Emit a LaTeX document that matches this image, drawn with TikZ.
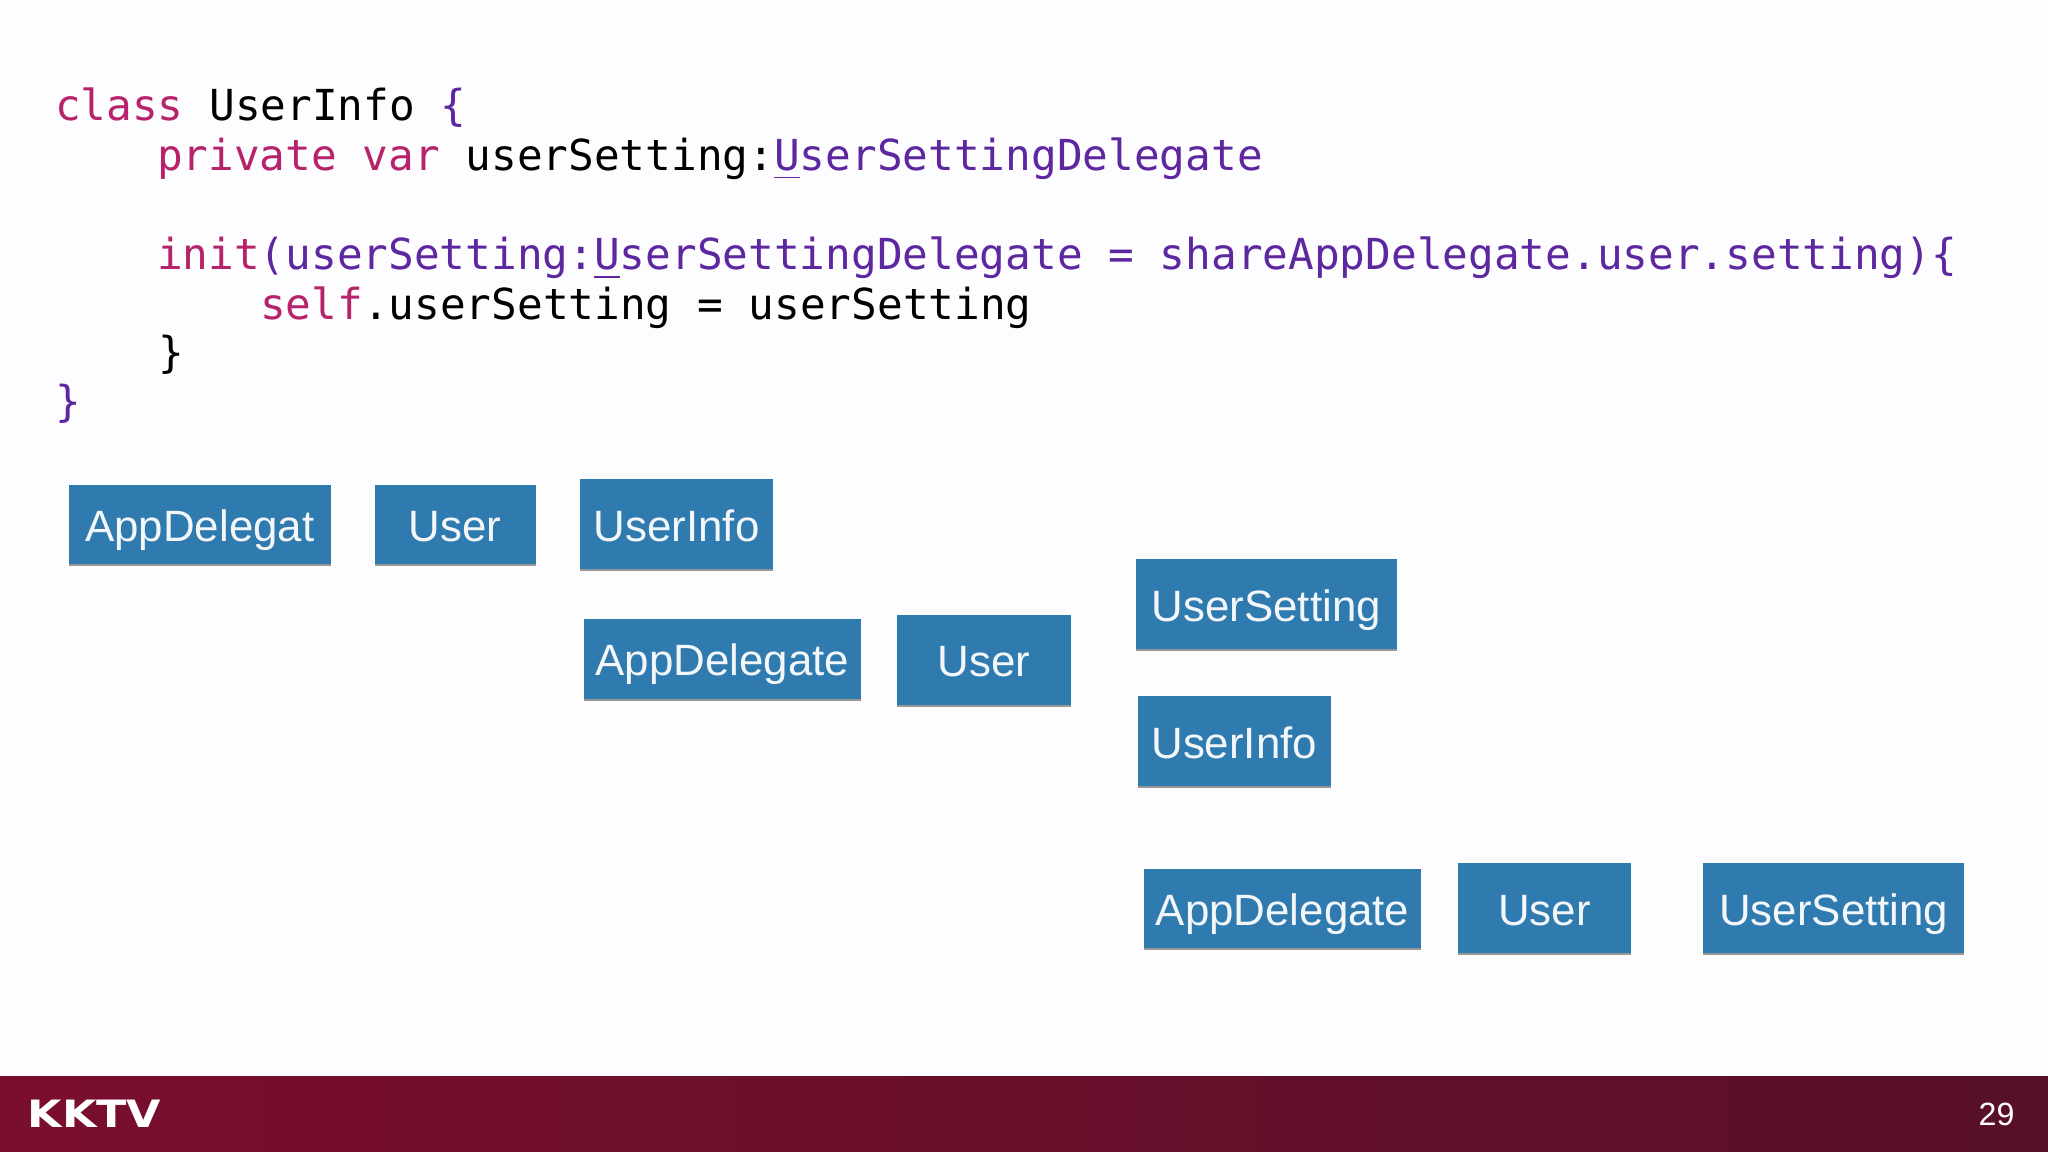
\documentclass[tikz,border=0pt]{standalone}
\usepackage{fontspec}
\usepackage{xcolor}
\setmainfont{Liberation Sans}
\setmonofont{DejaVu Sans Mono}
\newfontfamily\logofont[FakeStretch=1.18]{DejaVu Sans}
\usetikzlibrary{shadows}
\definecolor{pagebg}{HTML}{FDFCFE}
\definecolor{tileblue}{HTML}{2F7AAE}
\definecolor{barleft}{HTML}{7A0E2D}
\definecolor{barright}{HTML}{571027}
\definecolor{keyword}{HTML}{B6236B}
\definecolor{typename}{HTML}{5C279F}
\tikzset{
  codeline/.style={anchor=base west, inner sep=0, font=\ttfamily\fontsize{9.3}{11}\selectfont},
  tile/.style={fill=tileblue, text=white!94!tileblue, inner sep=0, minimum height=.61cm,
    text height=.35cm, text depth=.09cm,
    font=\fontsize{9.55}{11}\selectfont,
    drop shadow={shadow xshift=0pt, shadow yshift=-.4pt, opacity=.4, fill=black}},
  tall/.style={tile, minimum height=.69cm}
}
\newcommand{\kw}[1]{\textcolor{keyword}{#1}}
\newcommand{\ty}[1]{\textcolor{typename}{#1}}
\begin{document}
\begin{tikzpicture}[x=.01cm, y=-.01cm]
\useasboundingbox (0,0) rectangle (1568,882);
\fill[pagebg] (0,0) rectangle (1568,882);
\shade[left color=barleft, right color=barright] (0,824) rectangle (1568,882);
% code
\node[codeline] (line1) at (41.5,92.5) {\kw{class} UserInfo \ty{\{}};
\node[codeline] (line2) at (119.5,130.5) {\kw{private var} userSetting:\ty{\underline{U}serSettingDelegate}};
\node[codeline] (line3) at (119.5,206.5) {\kw{init}\ty{(userSetting:\underline{U}serSettingDelegate = shareAppDelegate.user.setting)\{}};
\node[codeline] (line4) at (198.5,244.5) {\kw{self}.userSetting = userSetting};
\node[codeline] (line5) at (120.5,281) {\}};
\node[codeline] (line6) at (41.5,319) {\ty{\}}};
% first row
\node[tile, minimum width=2cm] (app1) at (153,401.5) {AppDelegat};
\node[tile, minimum width=1.23cm] (user1) at (348.5,401.5) {User};
\node[tall, minimum width=1.48cm] (info1) at (518,401.5) {UserInfo};
% second row
\node[tile, minimum width=2.12cm] (app2) at (553,504.5) {AppDelegate};
\node[tall, minimum width=1.33cm] (user2) at (753.5,505) {User};
\node[tall, minimum width=2cm] (setting1) at (969.5,462.5) {UserSetting};
\node[tall, minimum width=1.48cm] (info2) at (945,567.5) {UserInfo};
% third row
\node[tile, minimum width=2.12cm] (app3) at (982,695.5) {AppDelegate};
\node[tall, minimum width=1.33cm] (user3) at (1182.5,695.5) {User};
\node[tall, minimum width=2cm] (setting2) at (1404,695.5) {UserSetting};
% footer
\node[anchor=base west, inner sep=0, text=white, font=\logofont\bfseries\fontsize{8.2}{10}\selectfont] (logo) at (20.5,863) {KKTV};
\node[anchor=base east, inner sep=0, text=white, font=\fontsize{7}{8}\selectfont] (page) at (1543,861.5) {29};
\end{tikzpicture}
\end{document}
